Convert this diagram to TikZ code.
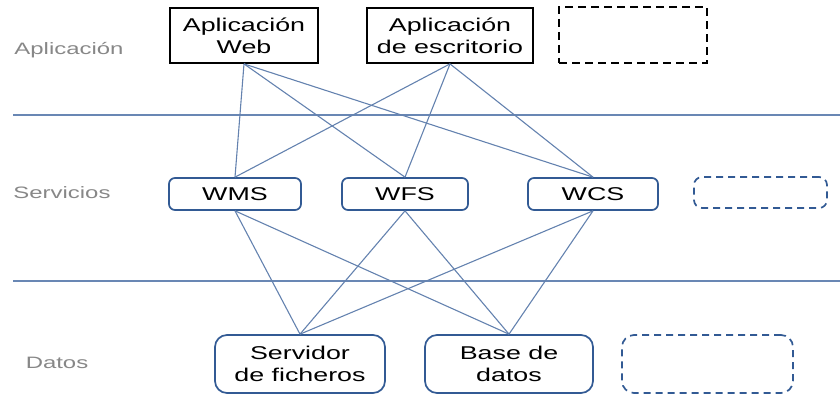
\documentclass[tikz,border=0pt]{standalone}
\usepackage{fontspec}
\setmainfont{Liberation Sans}[FakeStretch=1.45]
\definecolor{conn}{RGB}{100,130,175}
\definecolor{bord}{RGB}{50,90,148}
\definecolor{sepl}{RGB}{105,135,180}
\definecolor{lbl}{RGB}{135,135,135}
\begin{document}
\begin{tikzpicture}[x=1pt,y=-1pt,
  every node/.style={inner sep=0pt, align=center, font=\fontsize{18.5}{22}\selectfont},
  appbox/.style={draw=black, line width=1.8pt, minimum height=55pt},
  appdash/.style={draw=black, line width=1.8pt, dash pattern=on 8pt off 5pt, minimum height=56pt},
  svcbox/.style={draw=bord, line width=1.7pt, rounded corners=6pt},
  svcdash/.style={draw=bord, line width=1.7pt, rounded corners=8pt, dash pattern=on 7pt off 5pt},
  conline/.style={draw=conn, line width=1.1pt},
  sepline/.style={draw=sepl, line width=1.3pt},
  layerlbl/.style={text=lbl, font=\fontsize{16.5}{20}\selectfont}
]
\useasboundingbox (0,0) rectangle (840,395);
% separators
\coordinate (s1a) at (13,115); \coordinate (s1b) at (840,115);
\coordinate (s2a) at (13,281); \coordinate (s2b) at (840,281);
\draw[sepline] (s1a) -- (s1b);
\draw[sepline] (s2a) -- (s2b);
% layer labels
\node[layerlbl] (lapp) at (69,50) {Aplicación};
\node[layerlbl] (lsvc) at (62,193) {Servicios};
\node[layerlbl] (ldat) at (57,363) {Datos};
% application boxes
\node[appbox, minimum width=148pt] (web) at (244,35.5) {Aplicación\\Web};
\node[appbox, minimum width=166pt] (esc) at (450,35.5) {Aplicación\\de escritorio};
\node[appdash, minimum width=148pt] (appx) at (633,35) {};
% service boxes
\node[svcbox, minimum width=132pt, minimum height=32pt] (wms) at (235,194) {WMS};
\node[svcbox, minimum width=126pt, minimum height=32pt] (wfs) at (405,194) {WFS};
\node[svcbox, minimum width=130pt, minimum height=32pt] (wcs) at (593,194) {WCS};
\node[svcdash, minimum width=133pt, minimum height=31pt] (svcx) at (760.5,192.5) {};
% data boxes
\node[svcbox, minimum width=170pt, minimum height=58pt, rounded corners=12pt] (fich) at (300,364) {Servidor\\de ficheros};
\node[svcbox, minimum width=168pt, minimum height=58pt, rounded corners=12pt] (bd) at (509,364) {Base de\\datos};
\node[svcdash, minimum width=171pt, minimum height=58pt, rounded corners=12pt] (datx) at (707.5,364) {};
% connectors app -> services
\foreach \a in {web,esc}{
  \foreach \s in {wms,wfs,wcs}{
    \draw[conline] (\a.south) -- (\s.north);
  }
}
% connectors services -> data
\foreach \s in {wms,wfs,wcs}{
  \foreach \d in {fich,bd}{
    \draw[conline] (\s.south) -- (\d.north);
  }
}
\end{tikzpicture}
\end{document}
